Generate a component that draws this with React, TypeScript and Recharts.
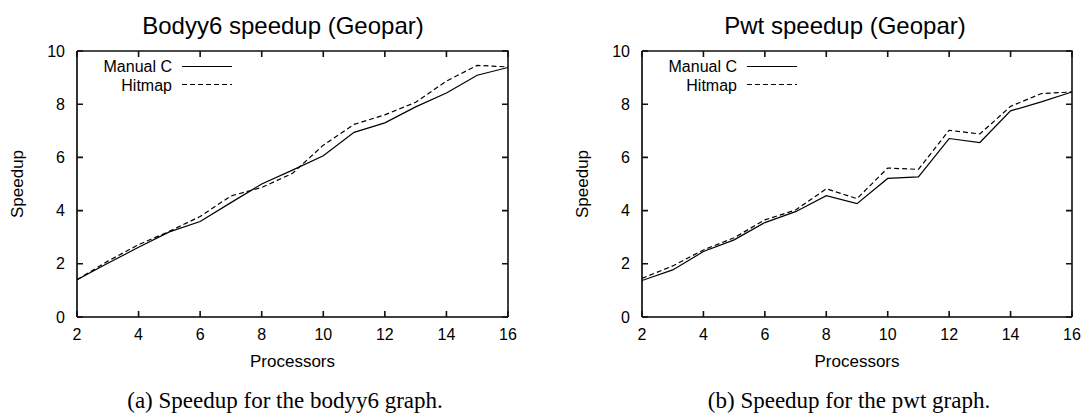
import React from 'react';
import { LineChart, Line, XAxis, YAxis, Legend } from 'recharts';

const processors = [2, 3, 4, 5, 6, 7, 8, 9, 10, 11, 12, 13, 14, 15, 16];
const xTicks = [2, 4, 6, 8, 10, 12, 14, 16];
const yTicks = [0, 2, 4, 6, 8, 10];

// bodyy6 graph
const bodyyManualC = [1.4, 2.02, 2.62, 3.2, 3.59, 4.3, 5.0, 5.52, 6.06, 6.94, 7.3, 7.9, 8.42, 9.09, 9.38];
const bodyyHitmap = [1.4, 2.1, 2.72, 3.22, 3.78, 4.55, 4.87, 5.4, 6.46, 7.24, 7.6, 8.07, 8.87, 9.46, 9.4];

// pwt graph
const pwtManualC = [1.37, 1.77, 2.46, 2.9, 3.55, 3.96, 4.56, 4.26, 5.21, 5.27, 6.71, 6.56, 7.75, 8.09, 8.46];
const pwtHitmap = [1.45, 1.92, 2.52, 2.98, 3.65, 4.02, 4.82, 4.45, 5.6, 5.55, 7.02, 6.88, 7.92, 8.4, 8.46];

const sans = '"Liberation Sans", Arial, Helvetica, sans-serif';
const serif = '"Liberation Serif", "Times New Roman", serif';

const CHART_H = 414;
const MARGIN_TOP = 51;
const MARGIN_BOTTOM = 67;
const MARGIN_LEFT = 17;
const X_AXIS_H = 30;
const Y_AXIS_W = 60;
const TICK_MARGIN = 12;
const TICK_LEN = 6;
const FRAME_W = 1.6;
const PLOT_H = CHART_H - MARGIN_TOP - MARGIN_BOTTOM - X_AXIS_H;

const toRows = (manual: number[], hitmap: number[]) =>
  processors.map((p, i) => ({ p, manual: manual[i], hitmap: hitmap[i] }));

function LegendBox() {
  return (
    <svg width={170} height={45} style={{ display: 'block' }}>
      <text x={95} y={21} textAnchor="end" fontFamily={sans} fontSize={16} fill="#000">
        Manual C
      </text>
      <line x1={105} x2={155} y1={15.5} y2={15.5} stroke="#000" strokeWidth={1.2} />
      <text x={95} y={39.5} textAnchor="end" fontFamily={sans} fontSize={16} fill="#000">
        Hitmap
      </text>
      <line x1={105} x2={155} y1={33.5} y2={33.5} stroke="#000" strokeWidth={1.2} strokeDasharray="5 3" />
    </svg>
  );
}

// bottom tick label plus inward ticks on bottom and top edges
const XTick = (props: any) => {
  const { x, y, payload } = props;
  const base = y - TICK_MARGIN;
  const top = base - PLOT_H;
  return (
    <g>
      <path d={`M${x},${base}V${base - TICK_LEN}M${x},${top}V${top + TICK_LEN}`} stroke="#111" strokeWidth={FRAME_W} fill="none" />
      <text x={x} y={y} dy="0.71em" textAnchor="middle" fontFamily={sans} fontSize={16} fill="#000">
        {payload.value}
      </text>
    </g>
  );
};

// left tick label plus inward ticks on left and right edges; the top tick also closes the frame
const makeYTick = (plotW: number) => (props: any) => {
  const { x, y, payload } = props;
  const base = x + TICK_MARGIN;
  const right = base + plotW;
  const isTop = payload.value === yTicks[yTicks.length - 1];
  return (
    <g>
      <path d={`M${base},${y}H${base + TICK_LEN}M${right},${y}H${right - TICK_LEN}`} stroke="#111" strokeWidth={FRAME_W} fill="none" />
      {isTop && (
        <path d={`M${base},${y}H${right}V${y + PLOT_H}`} stroke="#111" strokeWidth={FRAME_W} fill="none" />
      )}
      <text x={x} y={y} dy="0.355em" textAnchor="end" fontFamily={sans} fontSize={16} fill="#000">
        {payload.value}
      </text>
    </g>
  );
};

type PanelProps = {
  left: number;
  width: number;
  rightMargin: number;
  title: string;
  titleX: number;
  caption: string;
  captionX: number;
  manual: number[];
  hitmap: number[];
};

function Panel({ left, width, rightMargin, title, titleX, caption, captionX, manual, hitmap }: PanelProps) {
  const data = toRows(manual, hitmap);
  const plotW = width - MARGIN_LEFT - Y_AXIS_W - rightMargin;
  return (
    <div style={{ position: 'absolute', left, top: 0 }}>
      <LineChart
        width={width}
        height={CHART_H}
        data={data}
        margin={{ top: MARGIN_TOP, right: rightMargin, bottom: MARGIN_BOTTOM, left: MARGIN_LEFT }}
      >
        <XAxis
          dataKey="p"
          type="number"
          domain={[2, 16]}
          ticks={xTicks}
          allowDataOverflow
          height={X_AXIS_H}
          stroke="#000"
          strokeWidth={FRAME_W}
          tickLine={false}
          tickSize={0}
          tickMargin={TICK_MARGIN}
          tick={XTick}
          label={({ viewBox }: any) => (
            <text x={viewBox.x + viewBox.width / 2} y={viewBox.y + 50} textAnchor="middle" fontFamily={sans} fontSize={17} fill="#000">
              Processors
            </text>
          )}
        />
        <YAxis
          type="number"
          domain={[0, 10]}
          ticks={yTicks}
          allowDataOverflow
          width={Y_AXIS_W}
          stroke="#000"
          strokeWidth={FRAME_W}
          tickLine={false}
          tickSize={0}
          tickMargin={TICK_MARGIN}
          tick={makeYTick(plotW)}
          label={({ viewBox }: any) => {
            const cx = viewBox.x;
            const cy = viewBox.y + viewBox.height / 2;
            return (
              <text x={cx} y={cy} transform={`rotate(-90 ${cx} ${cy})`} textAnchor="middle" dominantBaseline="central" fontFamily={sans} fontSize={17} fill="#000">
                Speedup
              </text>
            );
          }}
        />
        <Legend
          layout="horizontal"
          align="center"
          verticalAlign="middle"
          wrapperStyle={{ left: 77, top: 51, width: 170, height: 45 }}
          content={() => <LegendBox />}
        />
        <Line type="linear" dataKey="manual" stroke="#000" strokeWidth={1.2} dot={false} isAnimationActive={false} />
        <Line type="linear" dataKey="hitmap" stroke="#000" strokeWidth={1.2} strokeDasharray="5 3" dot={false} isAnimationActive={false} />
        <text x={titleX} y={34} textAnchor="middle" fontFamily={sans} fontSize={24} fill="#000">
          {title}
        </text>
        <text x={captionX} y={408} textAnchor="middle" fontFamily={serif} fontSize={23} fill="#000">
          {caption}
        </text>
      </LineChart>
    </div>
  );
}

export default function App() {
  return (
    <div style={{ position: 'absolute', left: 0, top: 0, width: 1084, height: 414, background: '#fff' }}>
      <Panel
        left={0}
        width={540}
        rightMargin={32}
        title="Bodyy6 speedup (Geopar)"
        titleX={283}
        caption="(a) Speedup for the bodyy6 graph."
        captionX={285}
        manual={bodyyManualC}
        hitmap={bodyyHitmap}
      />
      <Panel
        left={565}
        width={519}
        rightMargin={12}
        title="Pwt speedup (Geopar)"
        titleX={280}
        caption="(b) Speedup for the pwt graph."
        captionX={284}
        manual={pwtManualC}
        hitmap={pwtHitmap}
      />
    </div>
  );
}
